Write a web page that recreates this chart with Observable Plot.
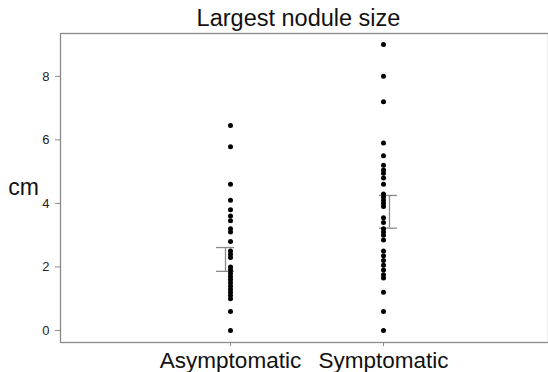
<!DOCTYPE html>
<html>
<head>
<meta charset="utf-8">
<script src="https://cdn.jsdelivr.net/npm/d3@7"></script>
<script src="https://cdn.jsdelivr.net/npm/@observablehq/plot@0.6"></script>
<style>
  html, body { margin: 0; padding: 0; background: #fff; }
  #chart svg { display: block; font-family: "Liberation Sans", Arial, sans-serif; }
</style>
</head>
<body>
<div id="chart"></div>
<script>
const title = "Largest nodule size";
const yLabel = "cm";
const groups = ["Asymptomatic", "Symptomatic"];
const asymptomatic = [6.45, 5.78, 4.6, 4.1, 3.8, 3.6, 3.45, 3.2, 3.1, 2.8, 2.5, 2.4, 2.3,
  2.0, 1.9, 1.8, 1.7, 1.6, 1.5, 1.4, 1.3, 1.2, 1.1, 1.0, 0.6, 0];
const symptomatic = [9.0, 8.0, 7.2, 5.9, 5.5, 5.2, 5.05, 4.95, 4.8, 4.6, 4.3, 4.2, 4.1, 4.0, 3.9,
  3.55, 3.4, 3.2, 3.1, 3.0, 2.85, 2.5, 2.35, 2.2, 2.05, 1.9, 1.75, 1.65, 1.2, 0.6, 0];
const errLow = [1.86, 3.22];
const errHigh = [2.61, 4.25];
const yTicks = [0, 2, 4, 6, 8];

const points = [
  ...asymptomatic.map(v => ({group: groups[0], value: v})),
  ...symptomatic.map(v => ({group: groups[1], value: v}))
];
const errs = groups.map((g, i) => ({group: g, low: errLow[i], high: errHigh[i]}));

const bw = 18, step = 153;
const pi = 1 - bw / step;
const po = ((548 - 65) / step - (2 - pi)) / 2;
const grey = "#8a8a8a";

const chart = Plot.plot({
  width: 548,
  height: 372,
  marginLeft: 60,
  marginRight: 0,
  marginTop: 33,
  marginBottom: 30,
  style: {fontFamily: "'Liberation Sans', Arial, sans-serif", background: "#fff"},
  x: {type: "band", domain: groups, range: [65, 548], paddingInner: pi, paddingOuter: po},
  y: {domain: [-0.38, 9.35]},
  marks: [
    Plot.frame({stroke: grey, strokeWidth: 1.3}),
    Plot.axisY({ticks: yTicks, tickSize: 5, tickPadding: 6, stroke: grey, fill: "#222", fontSize: 13, label: null}),
    Plot.axisX({tickSize: 4, tickPadding: 6, stroke: grey, fill: "#111", fontSize: 22.5, label: null}),
    Plot.ruleX(errs.filter(d => d.group === groups[0]), {x: "group", y1: "low", y2: "high", stroke: grey, strokeWidth: 1.3, dx: -5}),
    Plot.tickY(errs.filter(d => d.group === groups[0]), {x: "group", y: "low", stroke: grey, strokeWidth: 1.3, dx: -5}),
    Plot.tickY(errs.filter(d => d.group === groups[0]), {x: "group", y: "high", stroke: grey, strokeWidth: 1.3, dx: -5}),
    Plot.ruleX(errs.filter(d => d.group === groups[1]), {x: "group", y1: "low", y2: "high", stroke: grey, strokeWidth: 1.3, dx: 6}),
    Plot.tickY(errs.filter(d => d.group === groups[1]), {x: "group", y: "low", stroke: grey, strokeWidth: 1.3, dx: 5}),
    Plot.tickY(errs.filter(d => d.group === groups[1]), {x: "group", y: "high", stroke: grey, strokeWidth: 1.3, dx: 5}),
    Plot.dot(points, {x: "group", y: "value", r: 2.5, fill: "#000", stroke: "none"}),
    Plot.text([title], {frameAnchor: "top", lineAnchor: "middle", textAnchor: "middle", dx: -6, dy: -15, fontSize: 23.5, fill: "#111"}),
    Plot.text([yLabel], {frameAnchor: "left", lineAnchor: "middle", textAnchor: "middle", dx: -37, dy: 0, fontSize: 23, fill: "#111"})
  ]
});
document.getElementById("chart").appendChild(chart);
</script>
</body>
</html>
